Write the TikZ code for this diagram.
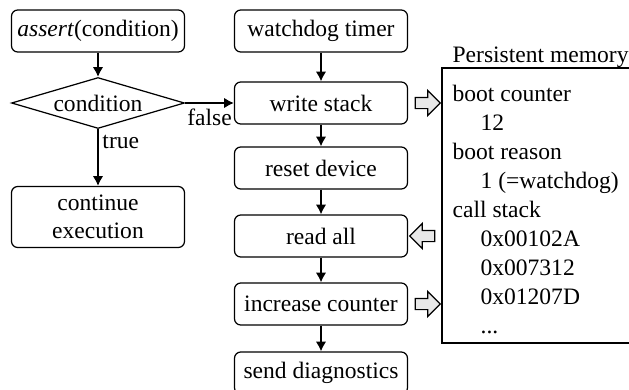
\documentclass[tikz,border=0pt]{standalone}
\usepackage{fontspec}
\setmainfont{Liberation Serif}
\usetikzlibrary{arrows.meta,shapes.geometric,shapes.arrows}

\tikzset{
  stepbox/.style={draw,rounded corners=3.5pt,minimum width=3.46cm,minimum height=0.84cm,align=center,inner sep=0pt},
  decision/.style={draw,diamond,aspect=3.4,minimum width=3.46cm,minimum height=1.02cm,inner sep=0pt},
  flow/.style={-{Latex[length=5.5pt,width=6pt]},line width=1.1pt},
  memarrow/.style={draw,single arrow,fill=gray!18,line width=0.7pt,minimum height=0.5cm,inner sep=0.1cm,single arrow head extend=0.14cm},
}

\begin{document}
\begin{tikzpicture}[x=0.02cm,y=-0.02cm,line width=0.7pt,font=\fontsize{13.4}{16}\selectfont]
\useasboundingbox (0,0) rectangle (629,389);

\node[stepbox] (assert) at (98,31) {\textit{assert}(condition)};
\node[decision] (cond) at (98,103) {condition};
\node[stepbox,minimum height=1.22cm] (cont) at (98,217) {continue\\execution};

\node[stepbox] (wdt) at (321,31) {watchdog timer};
\node[stepbox] (write) at (321,103) {write stack};
\node[stepbox] (reset) at (321,168) {reset device};
\node[stepbox] (read) at (321,236) {read all};
\node[stepbox] (incr) at (321,304) {increase counter};
\node[stepbox] (send) at (321,373) {send diagnostics};

\draw[flow] (assert) -- (cond);
\draw[flow] (cond) -- node[pos=0.22,right,inner sep=2pt] {true} (cont);
\draw[flow] (cond) -- node[below,inner sep=3pt] {false} (write);

\draw[flow] (wdt) -- (write);
\draw[flow] (write) -- (reset);
\draw[flow] (reset) -- (read);
\draw[flow] (read) -- (incr);
\draw[flow] (incr) -- (send);

\coordinate (memtr) at (700,68);
\coordinate (membr) at (700,343);
\draw (memtr) -- (442,68) -- (442,343) -- (membr);
\node[anchor=base west,inner sep=0pt] (memtitle) at (452,62) {Persistent memory};
\foreach \txt/\ind [count=\i from 0] in {boot counter/0,12/1,boot reason/0,1 (=watchdog)/1,call stack/0,0x00102A/1,0x007312/1,0x01207D/1,{.}{.}{.}/1}
  \node[anchor=base west,inner sep=0pt] (m\i) at (452+28*\ind,101+29*\i) {\txt};

\node[memarrow] (wmem) at (425,103) {};
\node[memarrow,shape border rotate=180] (rmem) at (425,236) {};
\node[memarrow] (imem) at (425,304) {};

\end{tikzpicture}
\end{document}
